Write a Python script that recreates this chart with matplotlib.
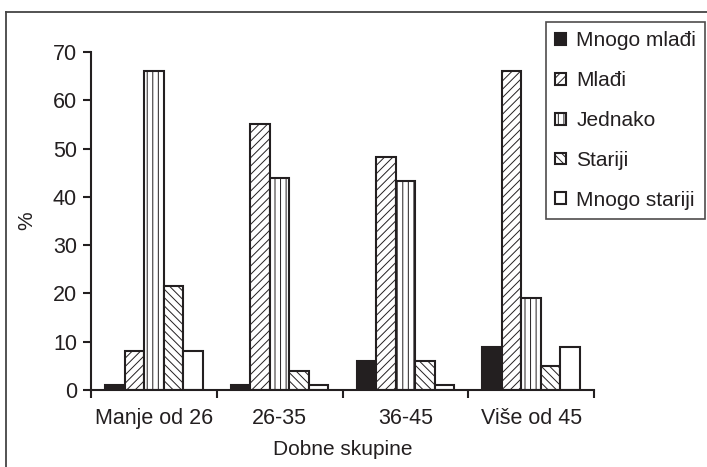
import matplotlib
matplotlib.use("Agg")
import matplotlib.pyplot as plt
from matplotlib.lines import Line2D
import numpy as np

categories = ["Manje od 26", "26-35", "36-45", "Više od 45"]
series_names = ["Mnogo mlađi", "Mlađi", "Jednako", "Stariji", "Mnogo stariji"]
mnogo_mladji = [1, 1, 6, 9]
mladji = [8, 55, 48.3, 66]
jednako = [66, 44, 43.2, 19]
stariji = [21.5, 4, 6, 5]
mnogo_stariji = [8, 1, 1, 9]
yticks = [0, 10, 20, 30, 40, 50, 60, 70]

series = [mnogo_mladji, mladji, jednako, stariji, mnogo_stariji]
ink = "#231f20"
styles = [
    dict(facecolor=ink, hatch=None),
    dict(facecolor="white", hatch="////"),
    dict(facecolor="white", hatch="|||"),
    dict(facecolor="white", hatch="\\\\\\\\"),
    dict(facecolor="white", hatch=None),
]

plt.rcParams["font.family"] = ["Liberation Sans", "DejaVu Sans"]
plt.rcParams["hatch.linewidth"] = 0.7

fig = plt.figure(figsize=(7.07, 4.67), dpi=100)
ax = fig.add_axes([91/707, 1-390/467, (594-91)/707, (390-52)/467])

x = np.arange(len(categories))
w = 0.155
for j, (vals, name, st) in enumerate(zip(series, series_names, styles)):
    ax.bar(x + (j-2)*w, vals, width=w, facecolor=st["facecolor"], hatch=st["hatch"],
           edgecolor=ink, linewidth=1.5, label=name)

ax.set_xlim(-0.5, len(categories)-0.5)
ax.set_ylim(0, 70)
ax.set_yticks(yticks)
ax.set_xticks(np.arange(len(categories)+1) - 0.5)
ax.set_xticklabels([])
ax.set_xticks(x, minor=True)
ax.set_xticklabels(categories, minor=True, fontsize=15.5, color=ink)
ax.tick_params(axis="x", which="minor", length=0, pad=13)
ax.tick_params(axis="x", which="major", length=6, width=1.5, color=ink, direction="out")
ax.tick_params(axis="y", length=6, width=1.5, color=ink, labelsize=15.5, labelcolor=ink, pad=4)
for s in ["top", "right"]:
    ax.spines[s].set_visible(False)
for s in ["left", "bottom"]:
    ax.spines[s].set_linewidth(1.5)
    ax.spines[s].set_color(ink)

ax.set_xlabel("Dobne skupine", fontsize=15, color=ink, labelpad=8)
ax.set_ylabel("%", fontsize=15, color=ink, labelpad=12)

leg = ax.legend(loc="upper left", bbox_to_anchor=(546/707, 1-22/467), bbox_transform=fig.transFigure,
                fontsize=15, frameon=True, fancybox=False, edgecolor=ink, borderpad=0.45,
                handlelength=0.5, handleheight=0.5, handletextpad=0.5, labelspacing=1.0,
                borderaxespad=0)
leg.get_frame().set_linewidth(1.2)
for t in leg.get_texts():
    t.set_color(ink)

# outer frame of the original figure
fig.add_artist(Line2D([6/707, 6/707], [0, 1-12/467], transform=fig.transFigure, color="#444444", lw=1.3))
fig.add_artist(Line2D([6/707, 1], [1-12/467, 1-12/467], transform=fig.transFigure, color="#444444", lw=1.3))

fig.savefig("out.png", dpi=100)
